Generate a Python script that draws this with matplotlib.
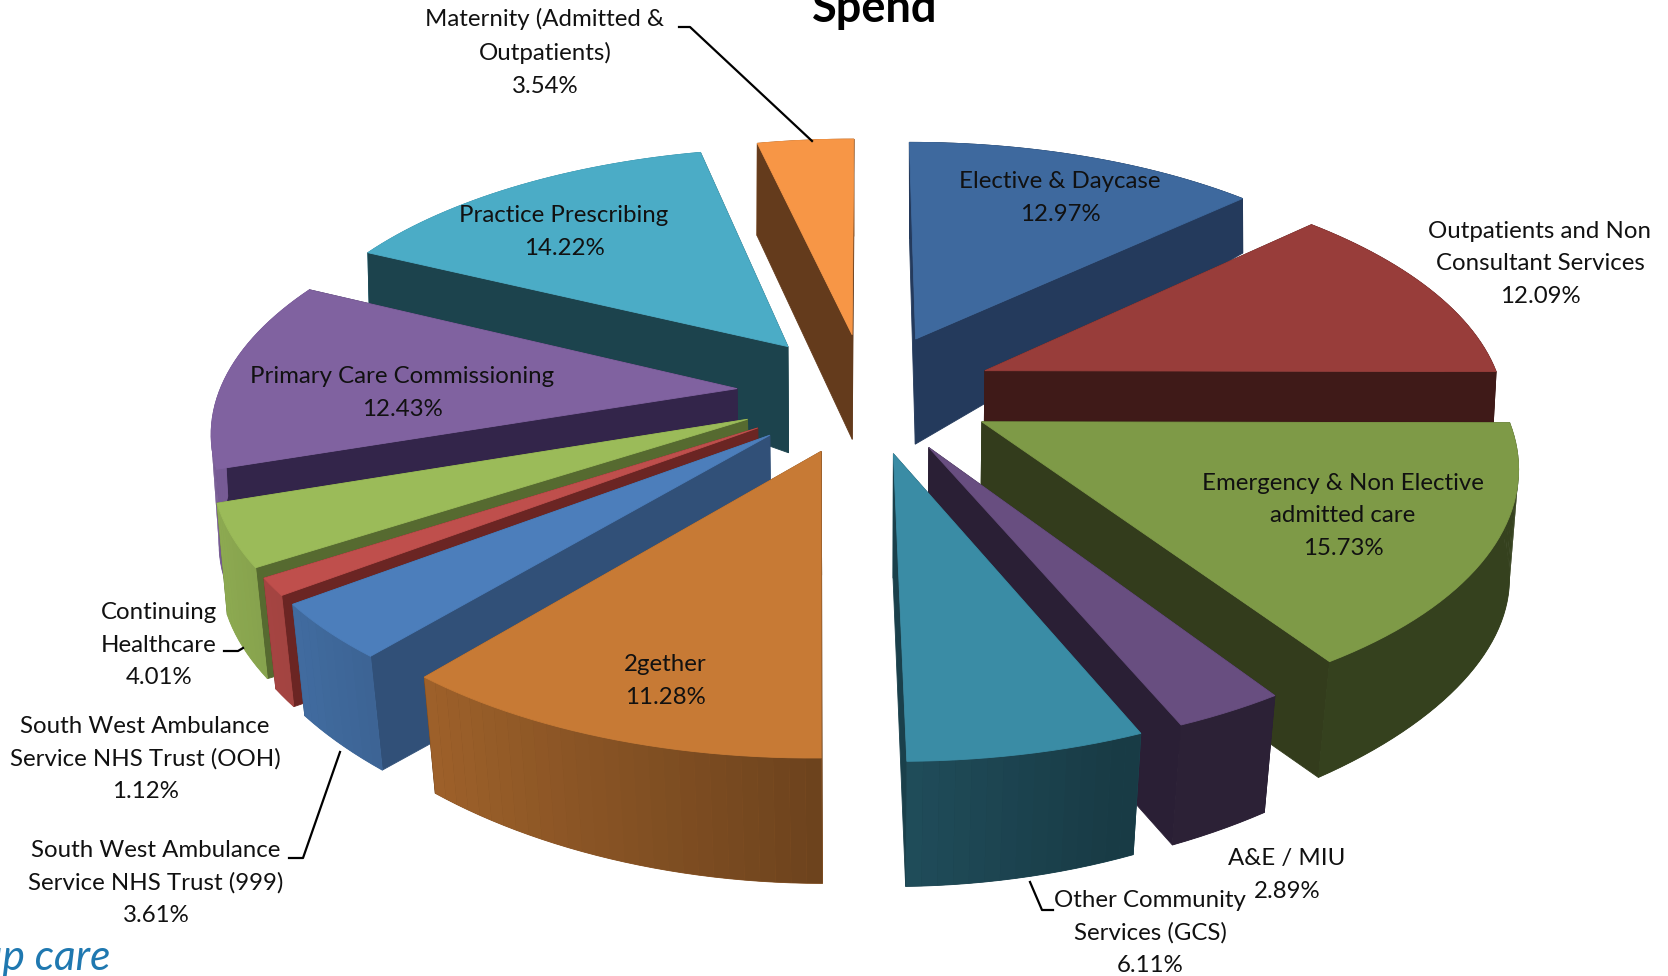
import numpy as np
import matplotlib
matplotlib.use("Agg")
import matplotlib.pyplot as plt
from matplotlib.patches import Polygon
from matplotlib.colors import to_rgb

names = ["Elective & Daycase", "Outpatients and Non\nConsultant Services",
         "Emergency & Non Elective\nadmitted care", "A&E / MIU",
         "Other Community\nServices (GCS)", "2gether",
         "South West Ambulance\nService NHS Trust (999)",
         "South West Ambulance\nService NHS Trust (OOH)",
         "Continuing\nHealthcare", "Primary Care Commissioning",
         "Practice Prescribing", "Maternity (Admitted &\nOutpatients)"]
values = [12.97, 12.09, 15.73, 2.89, 6.11, 11.28, 3.61, 1.12, 4.01, 12.43, 14.22, 3.54]
top_colors = ["#3E699E", "#983D3A", "#7E9A47", "#684E80", "#3A8CA5", "#C77A35",
              "#4C7EBB", "#BF4F4C", "#9BBB59", "#8062A0", "#4BACC6", "#F79646"]
radial_colors = ["#243A5C", "#3F1A18", "#333C1C", "#2A1F35", "#1A404B", "#6F441E",
                 "#315078", "#6B2523", "#566A30", "#33254A", "#1C434D", "#643B1C"]
draw_order = [11, 0, 10, 1, 9, 2, 8, 7, 6, 3, 4, 5]
label_xy = [(1060, 198), (1540, 264), (1343, 516), (1287, 875), (1150, 933), (665, 681),
            (156, 883), (145, 759), (159, 645), (402, 393), (564, 232), (545, 52)]
leaders = [[(679, 27), (690, 27), (812, 141)],
           [(289, 858), (303, 858), (340, 752)],
           [(224, 651), (238, 651), (243, 648)],
           [(1030, 882), (1042, 910), (1053, 910)]]

W, H = 1668, 976
EXPLODE = 0.25
CX, CY, AX, BY, KT = 866, 392.5, 518, 241, 0.15
CYB, BYB, KB, XB, KXB = 507, 286, 0.05, 0.99, 0.137


def project(x, y, bottom=False):
    x, y = np.asarray(x, float), np.asarray(y, float)
    if bottom:
        sx = AX * XB * x / (1 - KXB * y)
        sag = x ** 2 * np.where(y > 0, 30 * y, -62 * y)
        lift = np.where(y < 0, 42 * y ** 2, 0)
        return CX + sx, CYB + BYB * y / (1 - KB * y) - sag + lift
    s = 1 / (1 - KT * y)
    return CX + AX * x * s, CY + BY * y * s


def shade(color, f):
    return tuple(c * f for c in to_rgb(color))


def side_factor(t):
    return max(0.42, 0.55 - 0.38 * np.sin(t))


fig = plt.figure(figsize=(W / 100, H / 100), dpi=100)
ax = fig.add_axes([0, 0, 1, 1])
ax.set_xlim(0, W)
ax.set_ylim(H, 0)
ax.axis("off")
FONT = ["Lato", "DejaVu Sans"]
plt.rcParams["font.family"] = FONT

edges = np.radians(np.concatenate([[0], np.cumsum(values)]) * 3.6 * 100 / sum(values))
z = [1]


def add(xs, ys, color, lw=0.6):
    ax.add_patch(Polygon(np.column_stack([xs, ys]), closed=True, facecolor=color,
                         edgecolor=color if lw else "none", lw=lw, zorder=z[0]))
    z[0] += 1


for i in draw_order:
    t0, t1 = edges[i], edges[i + 1]
    mid = (t0 + t1) / 2
    dx, dy = EXPLODE * np.sin(mid), -EXPLODE * np.cos(mid)
    ts = np.linspace(t0, t1, max(3, int(np.degrees(t1 - t0) / 1.5) + 2))
    ox, oy = dx + np.sin(ts), dy - np.cos(ts)

    def outer(front):
        mids = (ts[:-1] + ts[1:]) / 2
        keep = np.where((np.cos(mids) < 0) == front)[0]
        if len(keep) == 0:
            return
        lo, hi = keep[0], keep[-1] + 2
        xa, ya = project(ox[lo:hi], oy[lo:hi])
        xb, yb = project(ox[lo:hi], oy[lo:hi], True)
        add(np.r_[xa, xb[::-1]], np.r_[ya, yb[::-1]],
            shade(top_colors[i], side_factor(mids[keep[len(keep) // 2]])))
        for a in keep:
            xa, ya = project(ox[a:a + 2], oy[a:a + 2])
            xb, yb = project(ox[a:a + 2], oy[a:a + 2], True)
            add(np.r_[xa, xb[::-1]], np.r_[ya, yb[::-1]],
                shade(top_colors[i], side_factor(mids[a])), lw=0)

    outer(False)
    radial = [(ox[0], oy[0]), (ox[-1], oy[-1])]
    radial.sort(key=lambda p: p[1])
    for px, py in radial:
        xa, ya = project([dx, px], [dy, py])
        xb, yb = project([dx, px], [dy, py], True)
        add(np.r_[xa, xb[::-1]], np.r_[ya, yb[::-1]], radial_colors[i])
    outer(True)
    xt, yt = project(np.r_[dx, ox], np.r_[dy, oy])
    add(xt, yt, top_colors[i])

for name, v, (lx, ly) in zip(names, values, label_xy):
    ax.text(lx, ly, f"{name}\n{v:.2f}%", ha="center", va="center", fontsize=17.3,
            color="#111111", linespacing=1.68, zorder=10000, family=FONT)

for pts in leaders:
    p = np.array(pts)
    ax.plot(p[:, 0], p[:, 1], color="black", lw=1.6, zorder=9999)

ax.text(875, 9, "Spend", ha="center", va="center", fontsize=32.5, fontweight="bold",
        color="black", zorder=10000, family=FONT)
ax.text(110, 958, "up care", ha="right", va="center", fontsize=30.5, style="italic",
        color="#1F78B0", zorder=10000, family=FONT)

fig.savefig("out.png", dpi=100, facecolor="white")
